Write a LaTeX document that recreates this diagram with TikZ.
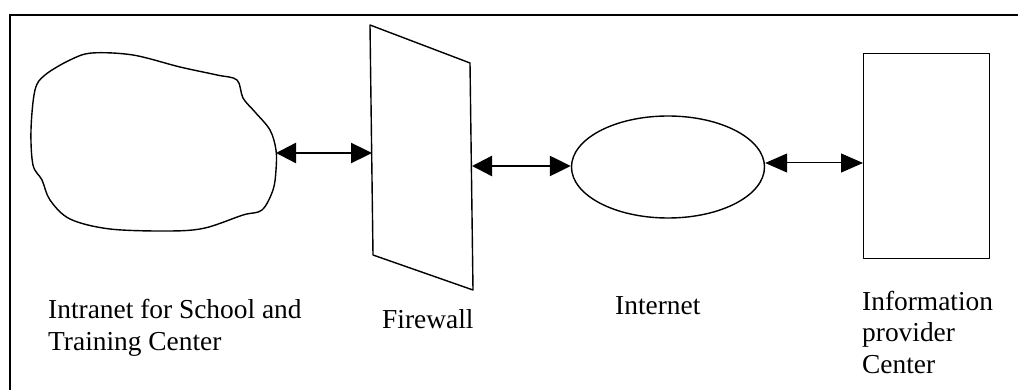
\documentclass[tikz,border=0pt]{standalone}
\usepackage{fontspec}
\setmainfont{Liberation Serif}
\usetikzlibrary{shapes.geometric,arrows.meta}
\begin{document}
\begin{tikzpicture}[x=1pt,y=-1pt,
  shapeline/.style={draw=black,line width=1.4pt,line join=round},
  lbl/.style={inner sep=0pt,align=left,anchor=base west,font=\fontsize{27.4}{31.5}\selectfont},
  bigarrow/.style={line width=2.4pt,{Triangle[length=20pt,width=20pt]}-{Triangle[length=21pt,width=20pt]}},
  thinarrow/.style={line width=1pt,{Triangle[length=22pt,width=19pt]}-{Triangle[length=22pt,width=19pt]}}]
\useasboundingbox (0,0) rectangle (1018,390);
% frame
\draw[line width=1.4pt] (10,390) -- (10,15) -- (1018,15);
% intranet blob
\draw[shapeline] plot[smooth cycle,tension=0.55] coordinates {
 (92,53) (133,55) (180,67) (217,75) (237,80) (243,98) (255,112) (270,130)
 (276,150) (276,170) (273,190) (262,210) (243,215) (205,228) (170,231)
 (110,229) (70,219) (50,200) (42,180) (33,165) (31,130) (35,90) (45,75) (70,60)};
\coordinate (intraE) at (276,153);
% firewall
\draw[shapeline] (370,25) -- (470,63) -- (473,290) -- (373,255) -- cycle;
\coordinate (fwW) at (372,153);
\coordinate (fwE) at (472,166);
% internet
\node[ellipse,shapeline,minimum width=193pt,minimum height=102pt,inner sep=0pt] (inet) at (668,167) {};
% information provider
\node[rectangle,shapeline,minimum width=126pt,minimum height=205pt,inner sep=0pt,anchor=north west] (info) at (863,53) {};
% connectors
\draw[bigarrow] (intraE) -- (fwW);
\draw[bigarrow] (fwE) -- (inet.west |- fwE);
\draw[thinarrow] (inet.east |- 0,163) -- (info.west |- 0,163);
% labels
\node[lbl] (l1) at (48,350) {Intranet for School and\\Training Center};
\node[lbl] (l2) at (382,328) {Firewall};
\node[lbl] (l3) at (615,314) {Internet};
\node[lbl] (l4) at (862,373) {Information\\provider\\Center};
\end{tikzpicture}
\end{document}
